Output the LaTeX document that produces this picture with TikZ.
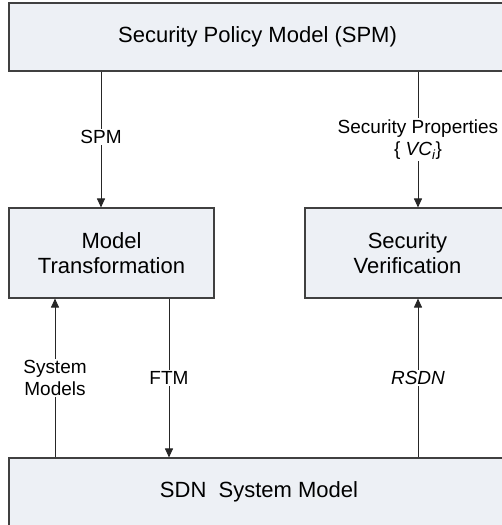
\documentclass[tikz,border=0pt]{standalone}
\usepackage{fontspec}
\setmainfont{Liberation Sans}
\usetikzlibrary{arrows.meta}
\definecolor{boxfill}{HTML}{EDF0F5}
\definecolor{boxline}{HTML}{404040}
\tikzset{
  blk/.style={draw=boxline, line width=1.1pt, fill=boxfill, align=center,
    font=\fontsize{22}{25}\selectfont, inner sep=0pt},
  arr/.style={draw=black!85, line width=0.9pt, -{Triangle[length=9pt,width=8pt]}},
  lbl/.style={fill=white, align=center, inner sep=1.5pt,
    font=\fontsize{19}{22}\selectfont, text=black}
}
\begin{document}
\begin{tikzpicture}[x=1pt,y=-1pt]
\clip (0,0) rectangle (502,525);
\fill[white] (0,0) rectangle (502,525);
\node[blk, minimum width=497pt, minimum height=68pt] (spm) at (257.5,37) {Security Policy Model (SPM)};
\node[blk, minimum width=205pt, minimum height=90pt] (mt) at (111.5,253) {Model\\Transformation};
\node[blk, minimum width=205pt, minimum height=90pt] (sv) at (407.5,253) {Security\\Verification};
\node[blk, minimum width=500pt, minimum height=68pt] (sdn) at (259,492) {SDN\ \ System Model};
\coordinate (xa) at (101,0);
\coordinate (xb) at (418,0);
\coordinate (xc) at (55,0);
\coordinate (xd) at (169,0);
\draw[arr] (spm.south -| xa) -- node[lbl, pos=0.48] {SPM} (mt.north -| xa);
\draw[arr] (spm.south -| xb) -- node[lbl, pos=0.5] {Security Properties\\\{ \textit{VC\textsubscript{i}}\}} (sv.north -| xb);
\draw[arr] (sdn.north -| xc) -- node[lbl] {System\\Models} (mt.south -| xc);
\draw[arr] (mt.south -| xd) -- node[lbl] {FTM} (sdn.north -| xd);
\draw[arr] (sdn.north -| xb) -- node[lbl] {\textit{RSDN}} (sv.south -| xb);
\end{tikzpicture}
\end{document}
